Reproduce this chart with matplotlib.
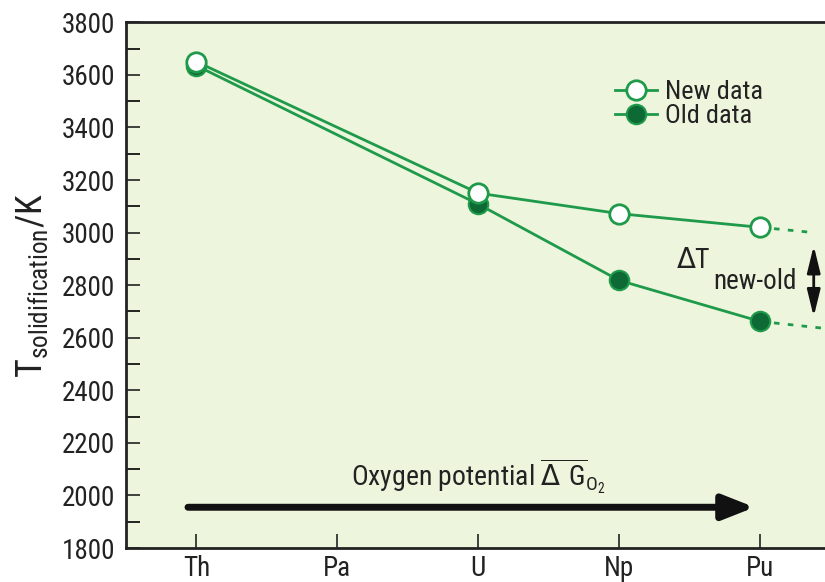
import matplotlib
matplotlib.use("Agg")
import matplotlib.pyplot as plt
from matplotlib.ticker import MultipleLocator

plt.rcParams['font.family'] = ['Liberation Sans Narrow', 'Roboto Condensed', 'DejaVu Sans']
plt.rcParams['mathtext.fontset'] = 'custom'
plt.rcParams['mathtext.rm'] = 'Liberation Sans Narrow'

elements = ["Th", "Pa", "U", "Np", "Pu"]
new_x = [0, 2, 3, 4]
new_T = [3650, 3150, 3072, 3020]
old_x = [0, 2, 3, 4]
old_T = [3635, 3108, 2818, 2662]
new_ext = [3020, 3000]
old_ext = [2662, 2640]
ext_x = [4, 4.38]

green = "#1e9a4a"
dark = "#0e6a34"
bg = "#edf5dc"

fig = plt.figure(figsize=(8.25, 5.82), dpi=100)
ax = fig.add_axes([0.1527, 0.0584, 0.8473, 0.9033])
ax.set_facecolor(bg)
ax.set_xlim(-0.5, 4.46)
ax.set_ylim(1800, 3800)

ax.plot(new_x, new_T, color=green, lw=2, marker='o', ms=14, mfc='white',
        mec=green, mew=2, label='New data', zorder=4)
ax.plot(old_x, old_T, color=green, lw=2, marker='o', ms=14, mfc=dark,
        mec=green, mew=1.5, label='Old data', zorder=3)
ax.plot(ext_x, new_ext, color=green, lw=2, ls=(0, (2, 3)), zorder=2)
ax.plot([4, 4.46], [old_ext[0], old_ext[0] - (old_ext[0]-old_ext[1]) * 0.46/0.38],
        color=green, lw=2, ls=(0, (2, 3)), zorder=2)

ax.set_xticks(range(len(elements)))
ax.set_xticklabels(elements)
ax.yaxis.set_major_locator(MultipleLocator(200))
ax.yaxis.set_minor_locator(MultipleLocator(100))
ax.tick_params(axis='both', direction='in', labelsize=19.5, colors='#222222', width=1.2)
ax.tick_params(axis='y', which='major', length=10, pad=8)
ax.tick_params(axis='y', which='minor', length=10, width=1.2, direction='in')
ax.tick_params(axis='x', length=10, pad=5)

for s in ['left', 'bottom', 'top']:
    ax.spines[s].set_linewidth(2)
    ax.spines[s].set_color('#222222')
ax.spines['right'].set_visible(False)

ax.set_ylabel(r'T$_{\mathregular{solidification}}$/K', fontsize=26, labelpad=8, color='#222222')

leg = ax.legend(loc='upper left', bbox_to_anchor=(0.68, 0.915), frameon=False,
                fontsize=19, handlelength=1.6, handletextpad=0.3, labelspacing=0.0,
                borderpad=0)
for t in leg.get_texts():
    t.set_color('#222222')

# Delta T annotation
ax.annotate('', xy=(4.38, 2680), xytext=(4.38, 2950),
            arrowprops=dict(arrowstyle='<|-|>,head_length=0.9,head_width=0.22',
                            color='#111111', lw=2,
                            mutation_scale=18, shrinkA=0, shrinkB=0))
ax.text(3.4, 2895, r'$\Delta$T', fontsize=20, color='#222222', va='center', ha='left')
ax.text(3.67, 2815, 'new-old', fontsize=19.5, color='#222222', va='center', ha='left')

# Oxygen potential arrow
ax.annotate('', xy=(3.96, 1955), xytext=(-0.06, 1955),
            arrowprops=dict(arrowstyle='-|>,head_length=1.9,head_width=0.75',
                            color='#111111', lw=5, shrinkA=0, shrinkB=0))
ax.text(2.0, 2075, r'Oxygen potential $\overline{\Delta\ \mathregular{G}}_{\mathregular{O_2}}$',
        fontsize=20, color='#222222', ha='center', va='center')

fig.savefig('out.png', dpi=100, facecolor='white')
